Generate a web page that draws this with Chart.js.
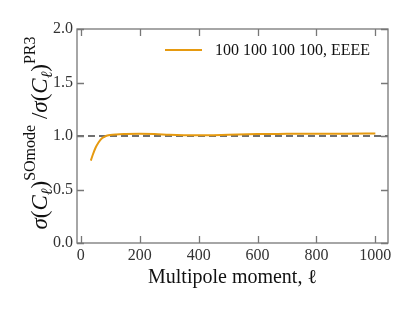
<!DOCTYPE html>
<html>
<head>
<meta charset="utf-8">
<script src="https://cdn.jsdelivr.net/npm/chart.js@4/dist/chart.umd.min.js"></script>
<style>
  html, body { margin: 0; padding: 0; background: #fff; }
  #wrap { width: 415px; height: 312px; }
</style>
</head>
<body>
<div id="wrap"><canvas id="c" width="415" height="312"></canvas></div>
<script>
// ===== Data =====
const ell = [34, 40, 50, 60, 70, 80, 90, 100, 120, 150, 200, 250, 300, 350, 400, 450, 500, 600, 700, 800, 900, 1000];
const ratio = [0.77, 0.82, 0.89, 0.94, 0.975, 0.992, 1.004, 1.01, 1.015, 1.018, 1.02, 1.018, 1.012, 1.008, 1.006, 1.008, 1.012, 1.018, 1.02, 1.022, 1.022, 1.023];
const refX = [-13, 1043];
const refY = [1, 1];
const xTicks = [0, 200, 400, 600, 800, 1000];
const yTicks = [0.0, 0.5, 1.0, 1.5, 2.0];
const seriesLabel = '100 100 100 100, EEEE';

const SERIF = '"Liberation Serif", "DejaVu Serif", serif';
const ORANGE = '#E69A10';
const AXIS = '#777';
const TEXT = '#333';

// inward ticks on all four sides + box
const frame = {
    id: 'frame',
    afterDatasetsDraw(chart) {
        const { ctx, chartArea: a, scales: { x, y } } = chart;
        ctx.save();
        ctx.strokeStyle = AXIS;
        ctx.lineWidth = 1.3;
        ctx.strokeRect(a.left, a.top, a.right - a.left, a.bottom - a.top);
        const L = 7;
        ctx.beginPath();
        xTicks.forEach(v => {
            const px = Math.round(x.getPixelForValue(v)) + 0.5;
            ctx.moveTo(px, a.bottom); ctx.lineTo(px, a.bottom - L);
            ctx.moveTo(px, a.top); ctx.lineTo(px, a.top + L);
        });
        yTicks.forEach(v => {
            const py = Math.round(y.getPixelForValue(v)) + 0.5;
            ctx.moveTo(a.left, py); ctx.lineTo(a.left + L, py);
            ctx.moveTo(a.right, py); ctx.lineTo(a.right - L, py);
        });
        ctx.stroke();
        ctx.restore();
    }
};

// legend inside the axes, top right
const legendBox = {
    id: 'legendBox',
    afterDraw(chart) {
        const { ctx, chartArea: a } = chart;
        const yy = a.top + 21;
        ctx.save();
        ctx.strokeStyle = ORANGE;
        ctx.lineWidth = 2;
        ctx.beginPath();
        ctx.moveTo(165, yy); ctx.lineTo(202, yy);
        ctx.stroke();
        ctx.fillStyle = '#111';
        ctx.font = '16px ' + SERIF;
        ctx.textBaseline = 'middle';
        ctx.fillText(seriesLabel, 215, yy + 1);
        ctx.restore();
    }
};

// y axis title with sub/superscripts
const yTitle = {
    id: 'yTitle',
    afterDraw(chart) {
        const { ctx, chartArea: a } = chart;
        const big = 23, small = 16;
        const parts = [
            { t: 'σ', f: 'italic ' + big + 'px ' + SERIF, dy: 0 },
            { t: '(', f: big + 'px ' + SERIF, dy: 0 },
            { t: 'C', f: 'italic ' + big + 'px ' + SERIF, dy: 0 },
            { t: 'ℓ', f: 'italic ' + small + 'px ' + SERIF, dy: 5 },
            { t: ')', f: big + 'px ' + SERIF, dy: 0 },
            { t: 'SOmode', f: small + 'px ' + SERIF, dy: -12 },
            { t: ' /', f: big + 'px ' + SERIF, dy: 0 },
            { t: 'σ', f: 'italic ' + big + 'px ' + SERIF, dy: 0 },
            { t: '(', f: big + 'px ' + SERIF, dy: 0 },
            { t: 'C', f: 'italic ' + big + 'px ' + SERIF, dy: 0 },
            { t: 'ℓ', f: 'italic ' + small + 'px ' + SERIF, dy: 5 },
            { t: ')', f: big + 'px ' + SERIF, dy: 0 },
            { t: 'PR3', f: small + 'px ' + SERIF, dy: -12 }
        ];
        ctx.save();
        let total = 0;
        parts.forEach(p => { ctx.font = p.f; p.w = ctx.measureText(p.t).width; total += p.w; });
        ctx.translate(47, (a.top + a.bottom) / 2 - 3);
        ctx.rotate(-Math.PI / 2);
        ctx.fillStyle = '#111';
        ctx.textBaseline = 'alphabetic';
        let cx = -total / 2;
        parts.forEach(p => {
            ctx.font = p.f;
            ctx.fillText(p.t, cx, p.dy);
            cx += p.w;
        });
        ctx.restore();
    }
};

new Chart(document.getElementById('c'), {
    type: 'line',
    data: {
        datasets: [
            {
                label: seriesLabel,
                data: ell.map((v, i) => ({ x: v, y: ratio[i] })),
                borderColor: ORANGE,
                borderWidth: 2,
                pointRadius: 0,
                cubicInterpolationMode: 'monotone',
                fill: false,
                order: 1
            },
            {
                label: 'ref',
                data: refX.map((v, i) => ({ x: v, y: refY[i] })),
                borderColor: '#707070',
                borderWidth: 2,
                borderDash: [7, 4],
                pointRadius: 0,
                fill: false,
                order: 2
            }
        ]
    },
    options: {
        responsive: false,
        animation: false,
        events: [],
        layout: { padding: { left: 0, right: 27, top: 29, bottom: 0 } },
        plugins: { legend: { display: false }, tooltip: { enabled: false } },
        scales: {
            x: {
                type: 'linear',
                min: -13, max: 1043,
                grid: { display: false, drawTicks: false },
                border: { display: false },
                afterBuildTicks: s => { s.ticks = xTicks.map(v => ({ value: v })); },
                afterFit: s => { s.height = 69; },
                ticks: {
                    padding: 3,
                    color: TEXT,
                    font: { family: SERIF, size: 16 },
                    maxRotation: 0,
                    callback: v => String(v)
                },
                title: {
                    display: true,
                    text: 'Multipole moment, ℓ',
                    color: '#111',
                    font: { family: SERIF, size: 20 },
                    padding: { top: 0, bottom: 22 }
                }
            },
            y: {
                min: 0, max: 2,
                grid: { display: false, drawTicks: false },
                border: { display: false },
                afterBuildTicks: s => { s.ticks = yTicks.map(v => ({ value: v })); },
                afterFit: s => { s.width = 77; },
                ticks: {
                    padding: 4,
                    color: TEXT,
                    font: { family: SERIF, size: 16 },
                    callback: v => v.toFixed(1)
                }
            }
        }
    },
    plugins: [frame, legendBox, yTitle]
});
</script>
</body>
</html>
